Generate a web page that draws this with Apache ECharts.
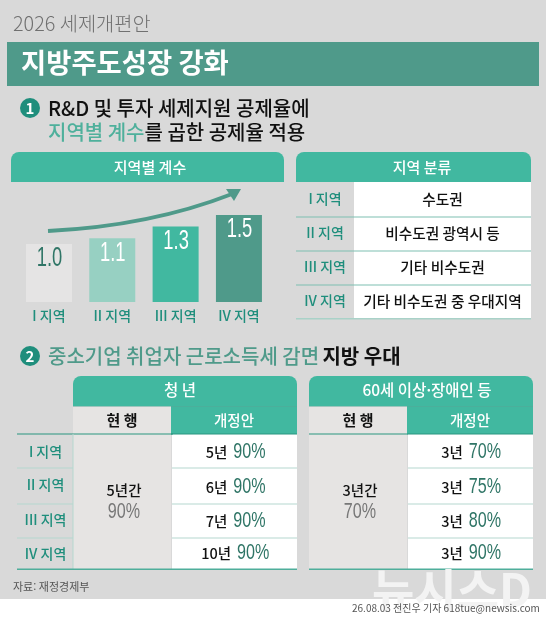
<!DOCTYPE html>
<html lang="ko"><head><meta charset="utf-8">
<style>html,body{margin:0;padding:0;background:#fff}#c{width:546px;height:633px}</style>
<script src="https://cdn.jsdelivr.net/npm/echarts@6/dist/echarts.min.js"></script>
</head><body><div id="c"></div>
<script>
const regions = ['I 지역','II 지역','III 지역','IV 지역'];
const coefficients = [1.0,1.1,1.3,1.5];
const regionClass = ['수도권','비수도권 광역시 등','기타 비수도권','기타 비수도권 중 우대지역'];
const youthYears = ['5년','6년','7년','10년'];
const youthRates = ['90%','90%','90%','90%'];
const seniorYears = ['3년','3년','3년','3년'];
const seniorRates = ['70%','75%','80%','90%'];
const barColors = ['#e5e4e4','#97d0c2','#41b8a0','#4f9a8a'];
const labelColors = ['#2f7566','#fff','#fff','#fff'];

const KR='"Noto Sans CJK KR"', NUMF='"Liberation Sans"';
const TEAL='#41b8a0', DEEP='#4f9a8a', RT='#1f8e7c', NUM='#2f7566';
const g=[];
function rect(x,y,w,h,fill,r){g.push({type:'rect',silent:true,shape:{x,y,width:w,height:h,r:r||0},style:{fill}});}
function text(x,y,t,size,fill,weight,align,family,extra){
  g.push(Object.assign({type:'text',silent:true,x,y,style:{text:t,fontSize:size,fill,fontWeight:weight||400,fontFamily:family||KR,
    align:align||'center',textAlign:align||'center',verticalAlign:'middle',textVerticalAlign:'middle'}},extra||{}));
}
function rich(x,y,t,r,align,extra){
  g.push(Object.assign({type:'text',silent:true,x,y,style:{text:t,rich:r,align:align||'center',textAlign:align||'center',verticalAlign:'middle',textVerticalAlign:'middle'}},extra||{}));
}
function circleNum(x,y,n){
  g.push({type:'circle',silent:true,shape:{cx:x,cy:y,r:10},style:{fill:'#1f8e7c'}});
  text(x,y+0.5,n,15,'#fff',700,'center',KR);
}
// page
rect(0,0,546,599,'#d9d9d9');
text(13,23,'2026 세제개편안',19.8,'#707070',300,'left');
rect(7,42,532,44,DEEP);
text(21,63,'지방주도성장 강화',27.4,'#fff',700,'left');
circleNum(30,108,'1');
text(48,108,'R&D 및 투자 세제지원 공제율에',20,'#111',500,'left');
rich(48,132,'{g|지역별 계수}{k|를 곱한 공제율 적용}',{g:{fontSize:20,fontWeight:500,fontFamily:KR,fill:'#4fb09c',color:'#4fb09c'},k:{fontSize:20,fontWeight:500,fontFamily:KR,fill:'#111',color:'#111'}},'left');
// left panel header
rect(11,152,273,30,TEAL,[8,8,0,0]);
text(150,167,'지역별 계수',15,'#fff',500);
// arrow (decorative)
g.push({type:'bezierCurve',silent:true,z:5,shape:{x1:48,y1:231,x2:232,y2:194,cpx1:150,cpy1:226},style:{fill:'none',stroke:DEEP,lineWidth:4}});
g.push({type:'polygon',silent:true,z:5,shape:{points:[[241,189],[226,189],[234,201]]},style:{fill:DEEP}});
// right panel
rect(296,152,235,30,TEAL,[8,8,0,0]);
text(422,167,'지역 분류',15,'#fff',500);
rect(354,182,177,136,'#fff');
const rowY=[199,233,267,301], lineY=[217,251,285];
lineY.forEach(y=>rect(296,y-0.5,235,1,'#7fbfb2'));
rect(296,318,235,1.5,'#a9d2c8');
regions.forEach((r,i)=>{text(325,rowY[i],r,14,RT,500);text(442.5,rowY[i],regionClass[i],14.7,'#111',500);});
// section 2
circleNum(30,356,'2');
rich(48,356,'{g|중소기업 취업자 근로소득세 감면} {k|지방 우대}',{g:{fontSize:20,fontWeight:500,fontFamily:KR,fill:'#4f9a8a',color:'#4f9a8a'},k:{fontSize:20,fontWeight:700,fontFamily:KR,fill:'#111',color:'#111'}},'left');
// tables
const tRowY=[452,487,521,553], tLineY=[468,504,538];
function table(x0,x1,xs,title,titleX,span,spanRate,yrs,rates,cx0,cx1,cRow){
  rect(x0,376,x1-x0,30,TEAL,[8,8,0,0]);
  text(titleX,390,title,15.5,'#fff',500);
  rect(x0,406,x1-x0,0.8,'#2a9680');
  rect(x0,406.5,xs-x0,28,'#e6e4e3');
  rect(xs,406.5,x1-xs,28,TEAL);
  text(cx0,420,'현 행',15,'#111',700);
  text(cx1,420,'개정안',14.5,'#fff',500);
  rect(x0,434,xs-x0,135,'#e6e4e3');
  rect(xs+1,434,x1-xs-1,135,'#fff');
  tLineY.forEach(y=>rect(xs+1,y-0.5,x1-xs-1,1,'#b5d8d0'));
  text(cx0+2,490,span,14.5,'#111',500);
  text(cx0+2,512,spanRate,21.5,'#777',400,'center',NUMF,{scaleX:0.75});
  yrs.forEach((y,i)=>{
    const yw=(y.length-1)*7.5+13, nw=32, gap=6;
    const nx=cRow+(yw+gap+nw)/2-nw;
    text(nx-gap,tRowY[i],y,14.5,'#111',500,'right');
    text(nx,tRowY[i],rates[i],21.5,NUM,400,'left',NUMF,{scaleX:0.75});
  });
}
table(73,297,171,'청 년',180,'5년간','90%',youthYears,youthRates,122,234,236);
table(309,533,407,'60세 이상·장애인 등',427,'3년간','70%',seniorYears,seniorRates,358,470,471.5);
rect(17,433.5,156,1,'#2a9680');rect(171,433.5,126,1,'#2a9680');rect(309,433.5,224,1,'#2a9680');
tLineY.forEach(y=>rect(17,y-0.5,56,1,'#b5d8d0'));
rect(72.5,434,1,135,'#b5d8d0');
rect(17,568.5,280,1.6,'#4fae9b');rect(309,568.5,224,1.6,'#4fae9b');
regions.forEach((r,i)=>text(45.5,[452,485,520,554][i],r,14,RT,500));
// footer
text(13,587,'자료: 재정경제부',11,'#555',400,'left');
text(372,590,'뉴시스D',46,'#f3f3f3',700,'left');
text(352,608,'26.08.03 전진우 기자 618tue@newsis.com',10,'#555',400,'left');

const chart=echarts.init(document.getElementById('c'),null,{renderer:'canvas'});
chart.setOption({
  animation:false,
  backgroundColor:'#fff',
  grid:{left:17.3,top:186,width:253.3,height:116,containLabel:false},
  xAxis:{type:'category',data:regions,axisLine:{show:false},axisTick:{show:false},
    axisLabel:{color:RT,fontSize:14,fontWeight:500,fontFamily:KR,margin:7,interval:0}},
  yAxis:{type:'value',min:0,max:2,show:false},
  series:[
    {type:'bar',barWidth:46,z:3,data:coefficients.map((v,i)=>({value:v,itemStyle:{color:barColors[i]}}))},
    {type:'custom',z:10,clip:false,silent:true,data:coefficients.map((v,i)=>[i,v]),encode:{x:0,y:1},
      renderItem:(p,api)=>{
        const v=api.value(1), c=api.coord([api.value(0),v]);
        return {type:'text',x:c[0]+0.5,y:c[1]+15,scaleX:0.68,z2:10,
          style:{text:v.toFixed(1),fontSize:27,fontFamily:NUMF,fill:labelColors[p.dataIndex],align:'center',verticalAlign:'middle'}};
      }}
  ],
  graphic:{elements:g}
});
</script></body></html>
